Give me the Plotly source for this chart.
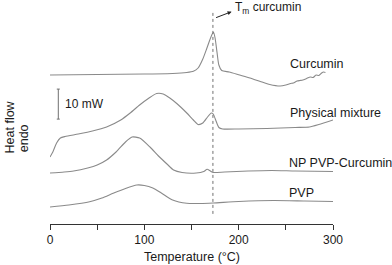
import plotly.graph_objects as go

# ---- data (heat flow in mW incl. vertical offsets) ----
curcumin_T = [0, 50, 100, 130, 145, 152, 157, 162, 166, 169, 172, 173.3, 175, 177, 179, 182,
              190, 201, 212, 223, 233, 244, 250, 255, 258, 262, 265, 268, 272, 276, 279,
              282, 285, 288, 290, 292]
curcumin_hf = [50.0, 50.17, 50.33, 50.5, 50.83, 51.23, 52.33, 55.33, 58.67, 61.33, 63.67, 64.23,
               62.33, 57.67, 53.33, 51.5, 51.0, 50.0, 49.0, 47.83, 46.83, 46.33, 46.67, 47.17,
               47.33, 48.0, 48.17, 48.33, 48.83, 49.33, 49.17, 50.0, 49.83, 50.67, 51.0, 50.83]

mixture_T = [0, 3, 7, 11, 16, 30, 45, 60, 75, 85, 95, 105, 113, 120, 127, 135, 145, 152, 157,
             162, 167, 171, 173, 176, 179, 183, 200, 230, 260, 275, 285, 300]
mixture_hf = [22.67, 24.33, 27.33, 29.0, 29.5, 30.33, 31.33, 32.67, 35.0, 37.33, 40.0, 42.33,
              43.83, 43.67, 42.33, 40.33, 37.33, 35.0, 33.5, 34.0, 36.0, 37.33, 37.0, 34.67,
              32.5, 32.0, 32.0, 32.17, 32.5, 32.67, 33.5, 35.0]

np_T = [0, 15, 25, 40, 50, 60, 70, 80, 87, 95, 106, 115, 124, 131, 140, 155, 163, 166.5, 170,
        173, 185, 210, 235, 260, 300]
np_hf = [17.33, 17.67, 18.0, 19.0, 20.0, 21.67, 24.33, 27.67, 29.33, 29.0, 26.0, 23.0, 20.33,
         18.33, 17.5, 17.33, 17.83, 18.57, 18.0, 17.5, 17.67, 18.0, 18.17, 18.0, 17.83]

pvp_T = [0, 20, 42, 55, 67, 80, 92, 100, 109, 118, 130, 145, 160, 173, 200, 237, 270, 300]
pvp_hf = [6.0, 6.67, 7.77, 9.0, 10.57, 12.17, 13.33, 13.17, 12.33, 10.67, 8.33, 7.23, 7.17,
          7.33, 7.83, 8.17, 8.0, 7.83]

series_names = ["Curcumin", "Physical mixture", "NP PVP-Curcumin", "PVP"]
label_T = [252.4, 252.4, 251.3, 251.3]
label_hf = [53.8, 37.3, 20.7, 10.7]

x_ticks = [0, 100, 200, 300]
x_minor_ticks = [50, 150, 250]

tm_curcumin = 172.7          # dotted line position (°C)
tm_line_hf = [70.7, 2.7]
scale_T = 8.8                # 10 mW scale bar
scale_hf = [35.3, 45.3]
scale_cap = 1.6

LINE = "#8a8a8a"
TXT = "#1a1a1a"
FONT = "Arial, Liberation Sans, sans-serif"

fig = go.Figure()
for T, hf in [(curcumin_T, curcumin_hf), (mixture_T, mixture_hf), (np_T, np_hf), (pvp_T, pvp_hf)]:
    fig.add_trace(go.Scatter(x=T, y=hf, mode="lines",
                             line=dict(color=LINE, width=1.1, shape="spline", smoothing=0.6),
                             hoverinfo="skip", showlegend=False))

# dotted Tm line
fig.add_trace(go.Scatter(x=[tm_curcumin, tm_curcumin], y=tm_line_hf, mode="lines",
                         line=dict(color="#707070", width=1, dash="dot"),
                         hoverinfo="skip", showlegend=False))
# scale bar with caps
fig.add_trace(go.Scatter(
    x=[scale_T - scale_cap, scale_T + scale_cap, None, scale_T, scale_T, None,
       scale_T - scale_cap, scale_T + scale_cap],
    y=[scale_hf[1], scale_hf[1], None, scale_hf[1], scale_hf[0], None, scale_hf[0], scale_hf[0]],
    mode="lines", line=dict(color="#707070", width=1), hoverinfo="skip", showlegend=False))

ann = []
for name, tx, ty in zip(series_names, label_T, label_hf):
    ann.append(dict(x=tx, y=ty, xref="x", yref="y", text=name, showarrow=False,
                    xanchor="left", yanchor="middle", font=dict(size=12.5, color=TXT)))
ann.append(dict(x=scale_T + 4.5, y=(scale_hf[0] + scale_hf[1]) / 2, xref="x", yref="y",
                text="10 mW", showarrow=False, xanchor="left", yanchor="middle",
                font=dict(size=12, color=TXT)))
# Tm annotation
ann.append(dict(x=194, y=72.4, xref="x", yref="y", text="T<sub>m</sub> curcumin",
                showarrow=False, xanchor="left", yanchor="middle",
                font=dict(size=12, color=TXT)))
ann.append(dict(x=192.5, y=71.1, xref="x", yref="y", text="", showarrow=True,
                arrowhead=2, arrowsize=0.8, arrowwidth=1, arrowcolor="#222",
                ax=-17, ay=6.5))
# axis titles
ann.append(dict(x=0.5, y=-0.147, xref="paper", yref="paper", text="Temperature (°C)",
                showarrow=False, xanchor="center", yanchor="middle",
                font=dict(size=12.5, color=TXT)))
ann.append(dict(x=-0.1413, y=0.431, xref="paper", yref="paper", text="Heat flow",
                showarrow=False, textangle=-90, xanchor="center", yanchor="middle",
                font=dict(size=12.5, color=TXT)))
ann.append(dict(x=-0.089, y=0.382, xref="paper", yref="paper", text="endo",
                showarrow=False, textangle=-90, xanchor="center", yanchor="middle",
                font=dict(size=12.5, color=TXT)))
ann.append(dict(x=-27.6, y=44.3, xref="x", yref="y", text="", showarrow=True,
                arrowhead=2, arrowsize=0.8, arrowwidth=1, arrowcolor="#222",
                ax=0, ay=21))

fig.update_layout(
    width=392, height=265,
    margin=dict(l=50, r=59, t=0, b=41),
    paper_bgcolor="white", plot_bgcolor="white",
    font=dict(family=FONT, size=12, color=TXT),
    annotations=ann,
    xaxis=dict(range=[0, 300], tickvals=x_ticks, ticks="outside", ticklen=5,
               tickwidth=1, tickcolor="#333", showline=True, linecolor="#333", linewidth=1,
               showgrid=False, zeroline=False, tickfont=dict(size=12, color=TXT),
               minor=dict(tickmode="array", tickvals=x_minor_ticks, ticks="outside",
                          ticklen=5, tickcolor="#333", tickwidth=1, showgrid=False)),
    yaxis=dict(range=[1 / 3, 75.0], visible=False),
)

fig.write_html("out.html", config={"displayModeBar": False},
               post_script="document.body.style.margin='0';document.body.style.padding='0';")
